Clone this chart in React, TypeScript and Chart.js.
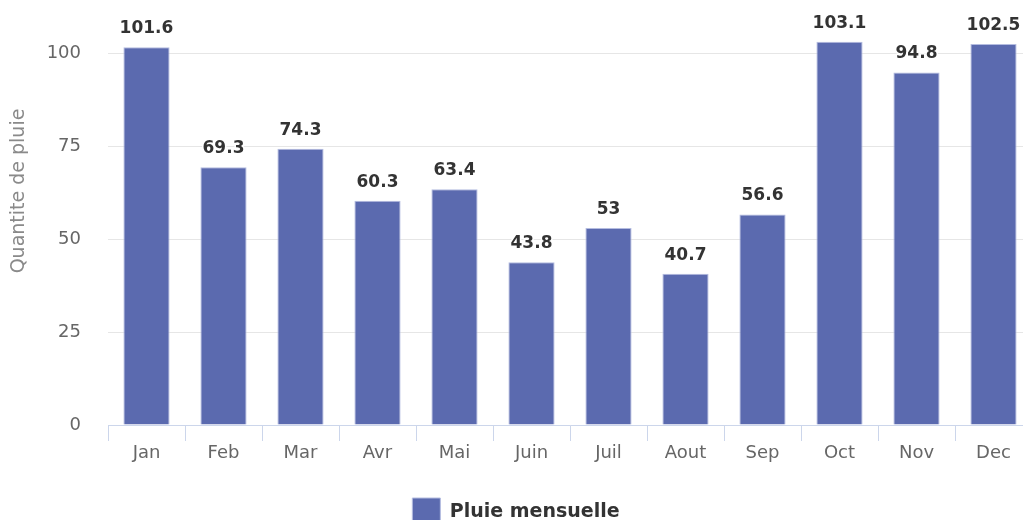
import React, { useEffect, useRef } from "react";
import { Chart, registerables } from "chart.js";

Chart.register(...registerables);

const categories = ["Jan", "Feb", "Mar", "Avr", "Mai", "Juin", "Juil", "Aout", "Sep", "Oct", "Nov", "Dec"];
const rainValues = [101.6, 69.3, 74.3, 60.3, 63.4, 43.8, 53, 40.7, 56.6, 103.1, 94.8, 102.5];
const seriesName = "Pluie mensuelle";
const yAxisTitle = "Quantite de pluie";
const yTicks = [0, 25, 50, 75, 100];

const FONT = "'DejaVu Sans', sans-serif";

const dataLabelPlugin = {
  id: "dataLabels",
  afterDatasetsDraw(chart: any) {
    const ctx = chart.ctx;
    const meta = chart.getDatasetMeta(0);
    const data = chart.data.datasets[0].data;
    ctx.save();
    ctx.font = `bold 17px ${FONT}`;
    ctx.textAlign = "center";
    ctx.textBaseline = "bottom";
    ctx.lineJoin = "round";
    meta.data.forEach((bar: any, i: number) => {
      const txt = String(data[i]);
      const y = bar.y - 10;
      ctx.strokeStyle = "#ffffff";
      ctx.lineWidth = 3;
      ctx.strokeText(txt, bar.x, y);
      ctx.fillStyle = "#333333";
      ctx.fillText(txt, bar.x, y);
    });
    ctx.restore();
  },
};

const yTitlePlugin = {
  id: "yTitle",
  afterDraw(chart: any) {
    const ctx = chart.ctx;
    ctx.save();
    ctx.translate(19, 191);
    ctx.rotate(-Math.PI / 2);
    ctx.font = `19px ${FONT}`;
    ctx.fillStyle = "#8a8a8a";
    ctx.textAlign = "center";
    ctx.textBaseline = "middle";
    ctx.fillText(yAxisTitle, 0, 0);
    ctx.restore();
  },
};

export default function App() {
  const ref = useRef<HTMLCanvasElement>(null);

  useEffect(() => {
    if (!ref.current) return;
    const chart = new Chart(ref.current, {
      type: "bar",
      data: {
        labels: categories,
        datasets: [
          {
            label: seriesName,
            data: rainValues,
            backgroundColor: "#5b6aaf",
            borderColor: "#b4bce0",
            borderWidth: 1,
            barPercentage: 0.6,
            categoryPercentage: 1,
          },
        ],
      },
      options: {
        animation: false,
        responsive: false,
        devicePixelRatio: 1,
        layout: { padding: { top: 16, right: 8, left: 0, bottom: 0 } },
        plugins: {
          tooltip: { enabled: false },
          legend: {
            display: true,
            position: "bottom",
            labels: {
              boxWidth: 28,
              boxHeight: 28,
              padding: 10,
              color: "#333333",
              font: { family: FONT, size: 19, weight: "bold" },
            },
          },
        },
        scales: {
          x: {
            grid: {
              display: true,
              offset: true,
              drawOnChartArea: false,
              drawTicks: true,
              tickLength: 16,
              color: "#ccd6eb",
            },
            border: { display: true, color: "#ccd6eb", width: 1 },
            ticks: {
              color: "#666666",
              font: { family: FONT, size: 18 },
              padding: 2,
              maxRotation: 0,
            },
            afterFit(scale: any) {
              scale.height = 63;
              scale.paddingLeft = 0;
              scale.paddingRight = 0;
            },
          },
          y: {
            min: 0,
            max: 110,
            grid: { color: "#e6e6e6", drawTicks: false },
            border: { display: false },
            afterBuildTicks(scale: any) {
              scale.ticks = yTicks.map((v) => ({ value: v }));
            },
            ticks: {
              color: "#666666",
              font: { family: FONT, size: 18 },
              padding: 27,
            },
            afterFit(scale: any) {
              scale.width = 108;
              scale.paddingTop = 0;
              scale.paddingBottom = 0;
            },
          },
        },
      },
      plugins: [dataLabelPlugin, yTitlePlugin],
    });
    return () => chart.destroy();
  }, []);

  return (
    <div style={{ position: "fixed", left: 0, top: 0, width: 1023, height: 520, overflow: "hidden", background: "#fff" }}>
      <canvas ref={ref} width={1040} height={536} style={{ display: "block" }} />
    </div>
  );
}
